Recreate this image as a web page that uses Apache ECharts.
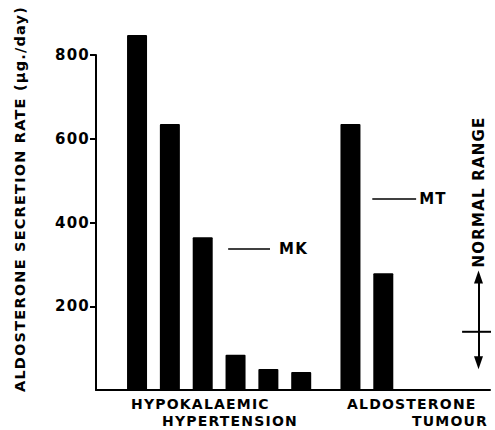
<!DOCTYPE html>
<html><head><meta charset="utf-8">
<script src="https://cdn.jsdelivr.net/npm/echarts@6/dist/echarts.min.js"></script>
<style>
html,body{margin:0;padding:0;background:#fff;}
#chart{width:495px;height:430px;}
#chart text{letter-spacing:1.2px;}
</style></head><body><div id="chart"></div>
<script>
// ---- data ----
const groupLabelLines = [['HYPOKALAEMIC', 'HYPERTENSION'], ['ALDOSTERONE', 'TUMOUR']];
const hypokalaemicValues = [848, 635, 365, 84, 50, 43];
const tumourValues = [635, 279];
const yTickValues = [200, 400, 600, 800];
const yAxisTitle = 'ALDOSTERONE SECRETION RATE (\u03bcg./day)';
const mkLevel = 337;
const mtLevel = 456;
const normalRange = [65, 270];
const normalMean = 139;
const normalLabel = 'NORMAL RANGE';

// ---- layout (slot units along the x axis) ----
const SLOTS = 24;
const categories = Array.from({length: SLOTS}, (_, i) => 'slot' + i);
const barData = new Array(SLOTS).fill(null);
hypokalaemicValues.forEach((v, i) => { barData[2 + 2 * i] = v; });
tumourValues.forEach((v, i) => { barData[15 + 2 * i] = v; });
const mkSpan = [8.05, 10.6];
const mtSpan = [16.83, 19.5];
const normalX = 23.3;
const crossSpan = [22.3, 24.15];

const FONT = 'DejaVu Sans';
const FS = 15;
const chart = echarts.init(document.getElementById('chart'), null, {renderer: 'svg'});
chart.setOption({
  animation: false,
  backgroundColor: '#fff',
  grid: {left: 96, right: 5, top: 55, bottom: 40, containLabel: false},
  xAxis: [
    {type: 'category', data: categories, boundaryGap: true,
     axisLine: {show: true, lineStyle: {color: '#000', width: 2}},
     axisTick: {show: false}, axisLabel: {show: false}, splitLine: {show: false}},
    {type: 'value', min: 0, max: SLOTS, show: false}
  ],
  yAxis: {
    type: 'value', min: 0, max: 800, interval: 200,
    axisLine: {show: true, lineStyle: {color: '#000', width: 2}},
    axisTick: {show: true, length: 6, lineStyle: {color: '#000', width: 2}, customValues: yTickValues},
    axisLabel: {customValues: yTickValues, color: '#000', fontFamily: FONT, fontWeight: 'bold', fontSize: FS, margin: 6},
    splitLine: {show: false}
  },
  series: [
    {type: 'bar', xAxisIndex: 0, data: barData, barWidth: 20, clip: false, silent: true,
     itemStyle: {color: '#000', borderRadius: 1}},
    {type: 'line', xAxisIndex: 1, data: [[mkSpan[0], mkLevel], [mkSpan[1], mkLevel]], symbol: 'none', silent: true,
     lineStyle: {color: '#000', width: 1.5}},
    {type: 'line', xAxisIndex: 1, data: [[mtSpan[0], mtLevel], [mtSpan[1], mtLevel]], symbol: 'none', silent: true,
     lineStyle: {color: '#000', width: 1.5}},
    {type: 'line', xAxisIndex: 1, data: [[crossSpan[0], normalMean], [crossSpan[1], normalMean]], symbol: 'none', silent: true, clip: false,
     lineStyle: {color: '#000', width: 2}},
    {type: 'line', xAxisIndex: 1, data: [], silent: true,
     markLine: {silent: true, symbol: ['triangle', 'triangle'], symbolSize: [9, 13], label: {show: false},
       lineStyle: {color: '#000', width: 2, type: 'solid'},
       data: [[{coord: [normalX, normalRange[0]]}, {coord: [normalX, normalRange[1]]}]]}}
  ]
});

const px = (x, y) => chart.convertToPixel({xAxisIndex: 1, yAxisIndex: 0}, [x, y]);
const mkP = px(mkSpan[1], mkLevel);
const mtP = px(mtSpan[1], mtLevel);
const nrP = px(normalX, (normalRange[1] + 800) / 2);
const txt = (text, x, y, align, rot, size) => ({type: 'text', x: x, y: y, rotation: rot || 0, silent: true,
  style: {text: text, fill: '#000', fontFamily: FONT, fontWeight: 'bold', fontSize: size || FS,
          textAlign: align, textVerticalAlign: 'middle'}});
const GFS = 14;
chart.setOption({
  graphic: [
    txt(yAxisTitle, 20, 199, 'center', Math.PI / 2, 14.5),
    txt('MK', mkP[0] + 9, mkP[1], 'left'),
    txt('MT', mtP[0] + 3, mtP[1], 'left'),
    txt(normalLabel, nrP[0], 192, 'center', Math.PI / 2),
    txt(groupLabelLines[0][0], 131, 404, 'left', 0, GFS),
    txt(groupLabelLines[0][1], 162, 421, 'left', 0, GFS),
    txt(groupLabelLines[1][0], 347, 404, 'left', 0, GFS),
    txt(groupLabelLines[1][1], 412, 421, 'left', 0, GFS)
  ]
});
</script></body></html>
